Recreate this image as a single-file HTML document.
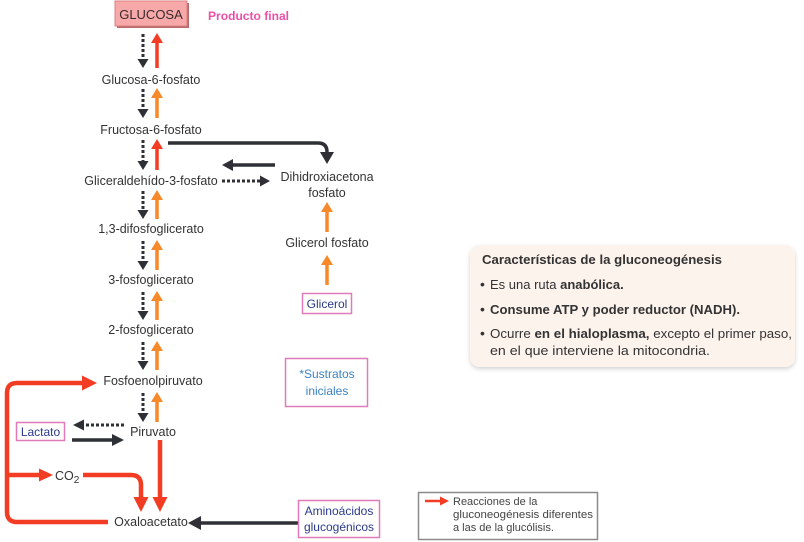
<!DOCTYPE html>
<html><head><meta charset="utf-8">
<style>
html,body{margin:0;padding:0;background:#fff;}
svg{display:block;}
text{font-family:"Liberation Sans",Arial,sans-serif;}
</style></head>
<body>
<svg width="804" height="542" viewBox="0 0 804 542" xmlns="http://www.w3.org/2000/svg">
<defs>
<filter id="sh" x="-10%" y="-10%" width="120%" height="130%">
<feGaussianBlur in="SourceAlpha" stdDeviation="2.5"/>
<feOffset dx="0" dy="2" result="b"/>
<feComponentTransfer><feFuncA type="linear" slope="0.18"/></feComponentTransfer>
<feMerge><feMergeNode/><feMergeNode in="SourceGraphic"/></feMerge>
</filter>
</defs>

<!-- GLUCOSA box -->
<rect x="117" y="3" width="72" height="25" fill="#b86a6a"/>
<rect x="115" y="1" width="72" height="25" fill="#f7a9a9" stroke="#d88080" stroke-width="1"/>
<text x="151" y="19" font-size="13" fill="#3a2a2a" text-anchor="middle">GLUCOSA</text>
<text x="208" y="20" font-size="11.5" font-weight="bold" fill="#ee4fa6" textLength="81" lengthAdjust="spacingAndGlyphs">Producto final</text>

<!-- vertical dashed (down) arrows -->
<g stroke="#2e3035" stroke-width="3" stroke-dasharray="3 2" fill="none">
<line x1="143" y1="34" x2="143" y2="59"/>
<line x1="143" y1="89" x2="143" y2="109"/>
<line x1="143" y1="140" x2="143" y2="161"/>
<line x1="143" y1="191" x2="143" y2="210"/>
<line x1="143" y1="241" x2="143" y2="261"/>
<line x1="143" y1="292" x2="143" y2="311"/>
<line x1="143" y1="342" x2="143" y2="361"/>
<line x1="143" y1="393" x2="143" y2="413"/>
</g>
<g fill="#2e3035">
<polygon points="137.5,59 148.5,59 143,68"/>
<polygon points="137.5,109 148.5,109 143,118"/>
<polygon points="137.5,161 148.5,161 143,170"/>
<polygon points="137.5,210 148.5,210 143,219"/>
<polygon points="137.5,261 148.5,261 143,270"/>
<polygon points="137.5,311 148.5,311 143,320"/>
<polygon points="137.5,361 148.5,361 143,370"/>
<polygon points="137.5,413 148.5,413 143,422"/>
</g>

<!-- vertical up arrows -->
<g stroke-width="3.5">
<line x1="157" y1="68" x2="157" y2="42" stroke="#f23c23"/>
<line x1="157" y1="118" x2="157" y2="97" stroke="#f7892a"/>
<line x1="157" y1="170" x2="157" y2="148" stroke="#f23c23"/>
<line x1="157" y1="219" x2="157" y2="199" stroke="#f7892a"/>
<line x1="157" y1="270" x2="157" y2="249" stroke="#f7892a"/>
<line x1="157" y1="320" x2="157" y2="300" stroke="#f7892a"/>
<line x1="157" y1="370" x2="157" y2="350" stroke="#f7892a"/>
<line x1="157" y1="422" x2="157" y2="401" stroke="#f7892a"/>
</g>
<polygon points="151,43 163,43 157,33" fill="#f23c23"/>
<polygon points="151,98 163,98 157,88" fill="#f7892a"/>
<polygon points="151,149 163,149 157,139" fill="#f23c23"/>
<polygon points="151,200 163,200 157,190" fill="#f7892a"/>
<polygon points="151,250 163,250 157,240" fill="#f7892a"/>
<polygon points="151,301 163,301 157,291" fill="#f7892a"/>
<polygon points="151,351 163,351 157,341" fill="#f7892a"/>
<polygon points="151,402 163,402 157,392" fill="#f7892a"/>

<!-- main labels -->
<g font-size="12.5" fill="#333" text-anchor="middle">
<text x="151" y="84">Glucosa-6-fosfato</text>
<text x="151" y="134">Fructosa-6-fosfato</text>
<text x="151" y="185">Gliceraldehído-3-fosfato</text>
<text x="151" y="233">1,3-difosfoglicerato</text>
<text x="151" y="284">3-fosfoglicerato</text>
<text x="151" y="334">2-fosfoglicerato</text>
<text x="153" y="385">Fosfoenolpiruvato</text>
<text x="153" y="436">Piruvato</text>
<text x="151" y="526">Oxaloacetato</text>
<text x="327" y="181">Dihidroxiacetona</text>
<text x="327" y="197">fosfato</text>
<text x="327" y="247">Glicerol fosfato</text>
</g>

<!-- curved dark arrow F6P -> DHAP -->
<path d="M168,143 H318 Q327,143 327,152" stroke="#2e3035" stroke-width="3.5" fill="none"/>
<polygon points="320,152 334,152 327,164" fill="#2e3035"/>
<!-- DHAP -> GA3P solid -->
<line x1="275" y1="165" x2="232" y2="165" stroke="#2e3035" stroke-width="3.5"/>
<polygon points="233,159 233,171 222,165" fill="#2e3035"/>
<!-- GA3P -> DHAP dotted -->
<line x1="222" y1="181" x2="261" y2="181" stroke="#2e3035" stroke-width="3" stroke-dasharray="3 2"/>
<polygon points="260,175.5 260,186.5 270,181" fill="#2e3035"/>

<!-- glycerol arrows -->
<line x1="327" y1="232" x2="327" y2="211" stroke="#f7892a" stroke-width="3.5"/>
<polygon points="321,212 333,212 327,202" fill="#f7892a"/>
<line x1="327" y1="285" x2="327" y2="264" stroke="#f7892a" stroke-width="3.5"/>
<polygon points="321,265 333,265 327,255" fill="#f7892a"/>

<!-- Glicerol box -->
<rect x="302.5" y="293.5" width="49" height="20" fill="#fff" stroke="#e07ab8" stroke-width="1.5"/>
<text x="327" y="308" font-size="12" fill="#2b3a8a" text-anchor="middle">Glicerol</text>

<!-- Sustratos box -->
<rect x="285.5" y="358.5" width="82" height="48" fill="#fff" stroke="#e07ab8" stroke-width="1.5"/>
<text x="327" y="378" font-size="12" fill="#3b82c4" text-anchor="middle">*Sustratos</text>
<text x="327" y="395" font-size="12" fill="#3b82c4" text-anchor="middle">iniciales</text>

<!-- Lactato -->
<rect x="16.5" y="422.5" width="48" height="18" fill="#fff" stroke="#e07ab8" stroke-width="1.5"/>
<text x="40.5" y="436" font-size="12" fill="#2b3a8a" text-anchor="middle">Lactato</text>
<line x1="124" y1="425" x2="83" y2="425" stroke="#2e3035" stroke-width="3" stroke-dasharray="3 2"/>
<polygon points="84,419.5 84,430.5 73,425" fill="#2e3035"/>
<line x1="72" y1="440" x2="113" y2="440" stroke="#2e3035" stroke-width="3.5"/>
<polygon points="112,434 112,446 124,440" fill="#2e3035"/>

<!-- red loop -->
<g stroke="#f23c23" stroke-width="4.5" fill="none">
<path d="M108,522 H17 Q7,522 7,512 V393 Q7,383 17,383 H83"/>
<path d="M7,475 H40"/>
<path d="M83,475 H131 Q141,475 141,485 V498"/>
<path d="M160,440 V498"/>
</g>
<g fill="#f23c23">
<polygon points="82,375.5 82,390.5 97,383"/>
<polygon points="39,468.5 39,481.5 53,475"/>
<polygon points="133.5,497 148.5,497 141,512"/>
<polygon points="152.5,497 167.5,497 160,512"/>
</g>
<text x="55" y="480" font-size="12.5" fill="#333">CO<tspan font-size="10" dy="3">2</tspan></text>

<!-- Aminoacidos -->
<line x1="298" y1="523" x2="200" y2="523" stroke="#2e3035" stroke-width="3.5"/>
<polygon points="201,516 201,530 188,523" fill="#2e3035"/>
<rect x="298.5" y="500.5" width="81" height="37" fill="#fff" stroke="#e07ab8" stroke-width="1.5"/>
<text x="339" y="515" font-size="12" fill="#2b3a8a" text-anchor="middle">Aminoácidos</text>
<text x="339" y="531" font-size="12" fill="#2b3a8a" text-anchor="middle">glucogénicos</text>

<!-- Characteristics box -->
<rect x="470" y="245" width="325" height="122" rx="10" fill="#fdf3ed" filter="url(#sh)"/>
<g font-size="13" fill="#333">
<text x="482" y="264" font-size="12.5" font-weight="bold" textLength="240" lengthAdjust="spacingAndGlyphs">Características de la gluconeogénesis</text>
<text x="480" y="289" font-size="14">•</text>
<text x="490" y="289">Es una ruta <tspan font-weight="bold">anabólica.</tspan></text>
<text x="480" y="314" font-size="14">•</text>
<text x="490" y="314" font-weight="bold" textLength="250" lengthAdjust="spacingAndGlyphs">Consume ATP y poder reductor (NADH).</text>
<text x="480" y="338" font-size="14">•</text>
<text x="490" y="338" textLength="302" lengthAdjust="spacingAndGlyphs">Ocurre <tspan font-weight="bold">en el hialoplasma,</tspan> excepto el primer paso,</text>
<text x="490" y="355" textLength="220" lengthAdjust="spacingAndGlyphs">en el que interviene la mitocondria.</text>
</g>

<!-- legend -->
<rect x="418.5" y="492.5" width="179" height="47" fill="#fff" stroke="#8a8a8a" stroke-width="1.5"/>
<line x1="425" y1="501" x2="441" y2="501" stroke="#f23c23" stroke-width="2.5"/>
<polygon points="440,496.5 440,505.5 449,501" fill="#f23c23"/>
<g font-size="11" fill="#444">
<text x="453" y="505">Reacciones de la</text>
<text x="453" y="518" textLength="140" lengthAdjust="spacingAndGlyphs">gluconeogénesis diferentes</text>
<text x="453" y="531">a las de la glucólisis.</text>
</g>
</svg>
</body></html>
